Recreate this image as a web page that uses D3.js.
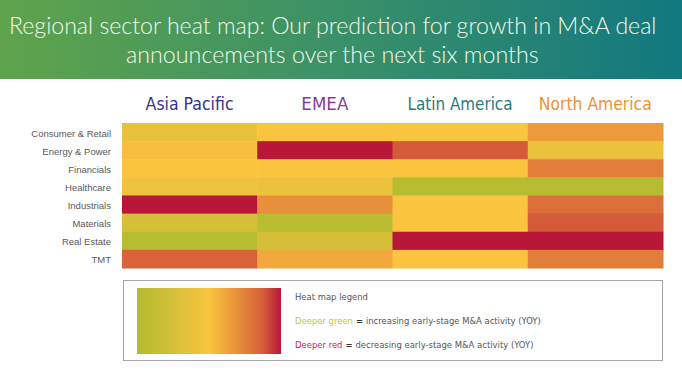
<!DOCTYPE html>
<html>
<head>
<meta charset="utf-8">
<script src="https://cdn.jsdelivr.net/npm/d3@7"></script>
<style>
  html, body { margin: 0; padding: 0; background: #ffffff; }
  svg { display: block; }
</style>
</head>
<body>
<svg id="chart" width="682" height="377"></svg>
<script>
// ---- Data ----
const titleLines = ["Regional sector heat map: Our prediction for growth in M&A deal",
                    "announcements over the next six months"];
const regions = ["Asia Pacific", "EMEA", "Latin America", "North America"];
const regionColors = ["#3b2f8c", "#8a3a9c", "#1f7c80", "#ec9236"];
const sectors = ["Consumer & Retail", "Energy & Power", "Financials", "Healthcare",
                 "Industrials", "Materials", "Real Estate", "TMT"];
// 0 = deeper green (increasing), 0.5 = neutral yellow, 1 = deeper red (decreasing)
const asiaPacific  = [0.38, 0.52, 0.50, 0.42, 1.00, 0.25, 0.02, 0.86];
const emea         = [0.50, 1.00, 0.50, 0.40, 0.70, 0.05, 0.25, 0.61];
const latinAmerica = [0.50, 0.88, 0.50, 0.02, 0.50, 0.50, 1.00, 0.50];
const northAmerica = [0.66, 0.40, 0.76, 0.03, 0.82, 0.88, 1.00, 0.76];
const seriesValues = [asiaPacific, emea, latinAmerica, northAmerica];
const legendTitle = "Heat map legend";
const legendGreen = ["Deeper green", " = ", "increasing early-stage M&A activity (YOY)"];
const legendRed = ["Deeper red", " = ", "decreasing early-stage M&A activity (YOY)"];

// ---- Setup ----
const svg = d3.select("#chart");
const defs = svg.append("defs");
const condensed = "'DejaVu Sans Condensed', 'Open Sans', sans-serif";

const colorStops = [0, 0.25, 0.5, 0.62, 0.75, 0.87, 1];
const colorRange = ["#b3bb2f", "#d6bf38", "#fac43e", "#f0a53d", "#e2813a", "#d7603a", "#b8173a"];
const color = d3.scaleLinear().domain(colorStops).range(colorRange).interpolate(d3.interpolateRgb);

// squeeze text horizontally to a target width
function fitWidth(sel, x0, target) {
  const w = sel.node().getComputedTextLength();
  const k = target / w;
  sel.attr("transform", `translate(${x0},0) scale(${k},1) translate(${-x0},0)`);
}

// ---- Title banner ----
const bannerGrad = defs.append("linearGradient").attr("id", "banner")
  .attr("x1", "0%").attr("x2", "100%").attr("y1", "0%").attr("y2", "0%");
bannerGrad.append("stop").attr("offset", "0%").attr("stop-color", "#5fa34b");
bannerGrad.append("stop").attr("offset", "50%").attr("stop-color", "#3a9068");
bannerGrad.append("stop").attr("offset", "100%").attr("stop-color", "#127880");
svg.append("rect").attr("x", 0).attr("y", 0).attr("width", 682).attr("height", 79)
  .attr("fill", "url(#banner)");

const titleSpecs = [{x0: 9, w: 648, y: 34}, {x0: 126, w: 413, y: 63}];
titleLines.forEach((t, i) => {
  const s = titleSpecs[i];
  const txt = svg.append("text").attr("x", s.x0).attr("y", s.y)
    .attr("fill", "#f3f9ec").attr("font-family", "Lato, 'Open Sans', sans-serif")
    .attr("font-size", 24).attr("font-weight", 300).text(t);
  fitWidth(txt, s.x0, s.w);
});

// ---- Heat map ----
const x = d3.scaleBand().domain(regions).range([122, 663]).padding(0);
const y = d3.scaleBand().domain(sectors).range([123, 268]).padding(0);

const headerWidths = [88, 47, 105, 113];
regions.forEach((r, i) => {
  const cx = x(r) + x.bandwidth() / 2;
  const txt = svg.append("text").attr("x", cx - headerWidths[i] / 2).attr("y", 110)
    .attr("fill", regionColors[i]).attr("font-family", condensed)
    .attr("font-size", 17).text(r);
  fitWidth(txt, cx - headerWidths[i] / 2, headerWidths[i]);
});

const cells = [];
regions.forEach((r, ri) => sectors.forEach((s, si) => cells.push({r, s, v: seriesValues[ri][si]})));
svg.append("g").selectAll("rect").data(cells).join("rect")
  .attr("x", d => x(d.r)).attr("y", d => y(d.s))
  .attr("width", x.bandwidth() + 0.5).attr("height", y.bandwidth() + 0.5)
  .attr("fill", d => color(d.v));

const yAxis = d3.axisLeft(y).tickSize(0).tickPadding(0);
const yg = svg.append("g").attr("transform", "translate(111,1.5)").call(yAxis);
yg.select(".domain").remove();
yg.selectAll("text").attr("font-family", "'Liberation Sans', Arial, sans-serif")
  .attr("font-size", 9.5).attr("fill", "#5a5a5a");

// ---- Legend ----
svg.append("rect").attr("x", 123.5).attr("y", 280.5).attr("width", 539).attr("height", 80)
  .attr("fill", "#ffffff").attr("stroke", "#a6a6a6").attr("stroke-width", 1);

const legGrad = defs.append("linearGradient").attr("id", "legGrad")
  .attr("x1", "0%").attr("x2", "100%").attr("y1", "0%").attr("y2", "0%");
colorStops.forEach((o, i) => legGrad.append("stop").attr("offset", (o * 100) + "%")
  .attr("stop-color", colorRange[i]));
svg.append("rect").attr("x", 137).attr("y", 288).attr("width", 144).attr("height", 66)
  .attr("fill", "url(#legGrad)");

const lt = svg.append("text").attr("x", 295).attr("y", 300)
  .attr("font-family", condensed).attr("font-size", 9.5).attr("fill", "#555").text(legendTitle);
fitWidth(lt, 295, 73);

function legendLine(parts, col, yy, w) {
  const t = svg.append("text").attr("x", 295).attr("y", yy)
    .attr("font-family", condensed).attr("font-size", 9.5).attr("fill", "#555");
  t.append("tspan").attr("fill", col).text(parts[0]);
  t.append("tspan").attr("font-weight", "bold").attr("fill", "#333").text(parts[1]);
  t.append("tspan").text(parts[2]);
  fitWidth(t, 295, w);
}
legendLine(legendGreen, "#c6c63a", 324, 246);
legendLine(legendRed, "#d0174e", 348, 239);
</script>
</body>
</html>
